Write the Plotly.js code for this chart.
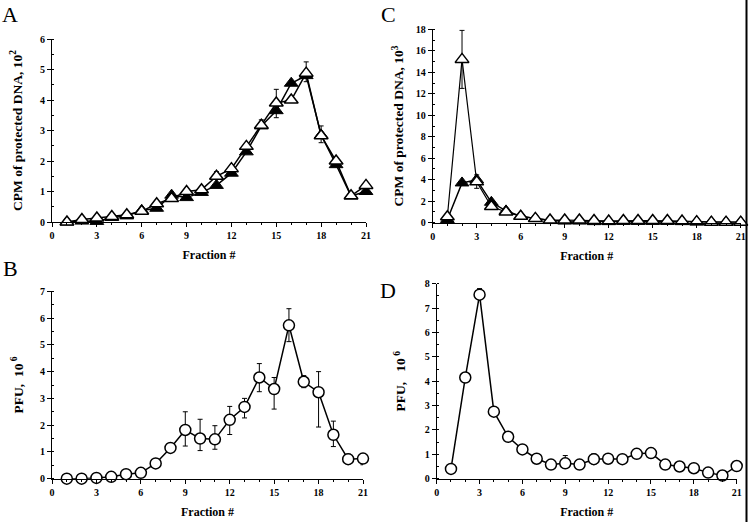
<!DOCTYPE html>
<html>
<head>
<meta charset="utf-8">
<script src="https://cdn.plot.ly/plotly-3.0.1.min.js"></script>
<style>html,body{margin:0;padding:0;background:#fff;}#chart{width:751px;height:522px;}</style>
</head>
<body>
<div id="chart"></div>
<script>
// ---- data ----
const fractions = [1,2,3,4,5,6,7,8,9,10,11,12,13,14,15,16,17,18,19,20,21];

// Panel A (CPM of protected DNA, 10^2)
const aFilled = [0,0.03,0.02,0.15,0.2,0.38,0.45,0.88,0.8,0.97,1.2,1.6,2.3,3.15,3.65,4.55,4.8,2.85,1.88,0.85,1.0];
const aFilledErrUp = [null,null,null,null,null,null,null,null,null,null,null,null,null,null,0,null,null,null,null,null,null];
const aFilledErrDn = [null,null,null,null,null,null,null,null,null,null,null,null,null,null,0.23,null,null,null,null,null,null];
const aOpen = [0,0.08,0.13,0.18,0.24,0.35,0.6,0.77,1.0,1.06,1.5,1.75,2.48,3.17,3.9,4.0,4.88,2.83,2.0,0.86,1.2];
const aOpenErrUp = [null,null,null,null,null,null,null,null,null,null,0.15,null,null,0.18,0.45,null,0.37,0.32,null,null,null];
const aOpenErrDn = [null,null,null,null,null,null,null,null,null,null,0,null,null,0,0,null,0.28,0.23,null,null,null];

// Panel B (PFU, 10^6)
const bPfu = [0,0,0.03,0.07,0.17,0.22,0.57,1.15,1.82,1.5,1.47,2.2,2.68,3.78,3.35,5.73,3.62,3.23,1.64,0.73,0.75];
const bErrUp = [null,null,null,null,null,null,0.18,0.17,0.68,0.72,0.51,0.5,0.32,0.52,0.43,0.62,0.23,0.77,0.51,0.19,0.18];
const bErrDn = [null,null,null,null,null,null,0.18,0.17,0.6,0.45,0.37,0.55,0.41,0.53,0.75,0.61,0.22,1.3,0.44,0.18,0.23];

// Panel C (CPM of protected DNA, 10^3)
const cFilled = [0.3,3.7,4.0,1.9,1.1,0.6,0.4,0.2,0.15,0.15,0.1,0.1,0.12,0.12,0.12,0.12,0.1,0.08,0.05,0.05,0.05];
const cOpen = [0.55,15.2,3.8,1.5,1.0,0.6,0.4,0.25,0.25,0.25,0.2,0.15,0.2,0.2,0.2,0.2,0.15,0.1,0.05,0.05,0.05];
const cOpenErrUp = [null,2.7,0.65,null,null,null,null,null,null,null,null,null,null,null,null,null,null,null,null,null,null];
const cOpenErrDn = [null,2.7,0.6,null,null,null,null,null,null,null,null,null,null,null,null,null,null,null,null,null,null];

// Panel D (PFU, 10^6)
const dPfu = [0.4,4.15,7.55,2.75,1.72,1.2,0.82,0.58,0.63,0.58,0.8,0.82,0.8,1.02,1.05,0.58,0.5,0.43,0.25,0.13,0.52];
const dErrUp = [null,null,0.25,null,null,null,null,null,0.32,null,0.22,null,null,null,null,null,null,null,null,null,null];
const dErrDn = [null,null,0,null,null,null,null,null,0,null,0.2,null,null,null,null,null,null,null,null,null,null];

const xTickVals = [0,3,6,9,12,15,18,21];

// ---- styles ----
const FONT = 'Liberation Serif, Times New Roman, serif';
const lineStyle = {color:'#000', width:1.5};
const err = (up, dn) => ({type:'data', symmetric:false, array:up, arrayminus:dn, color:'#000', thickness:1, width:2.5});

const traces = [
  {x:fractions, y:aFilled, xaxis:'x', yaxis:'y', mode:'lines+markers', line:lineStyle,
   marker:{symbol:'triangle-up', size:12, color:'#000', line:{color:'#000', width:1}},
   error_y:err(aFilledErrUp, aFilledErrDn), cliponaxis:false, name:'A filled'},
  {x:fractions, y:aOpen, xaxis:'x', yaxis:'y', mode:'lines+markers', line:lineStyle,
   marker:{symbol:'triangle-up', size:12, color:'#fff', line:{color:'#000', width:1.5}},
   error_y:err(aOpenErrUp, aOpenErrDn), cliponaxis:false, name:'A open'},
  {x:fractions, y:bPfu, xaxis:'x2', yaxis:'y2', mode:'lines+markers', line:lineStyle,
   marker:{symbol:'circle', size:11, color:'#fff', line:{color:'#000', width:1.5}},
   error_y:err(bErrUp, bErrDn), cliponaxis:false, name:'B'},
  {x:fractions, y:cFilled, xaxis:'x3', yaxis:'y3', mode:'lines+markers', line:lineStyle,
   marker:{symbol:'triangle-up', size:12, color:'#000', line:{color:'#000', width:1}},
   cliponaxis:false, name:'C filled'},
  {x:fractions, y:cOpen, xaxis:'x3', yaxis:'y3', mode:'lines+markers', line:{color:'#000', width:1.2},
   marker:{symbol:'triangle-up', size:12, color:'#fff', line:{color:'#000', width:1.5}},
   error_y:err(cOpenErrUp, cOpenErrDn), cliponaxis:false, name:'C open'},
  {x:fractions, y:dPfu, xaxis:'x4', yaxis:'y4', mode:'lines+markers', line:lineStyle,
   marker:{symbol:'circle', size:11, color:'#fff', line:{color:'#000', width:1.5}},
   error_y:err(dErrUp, dErrDn), cliponaxis:false, name:'D'}
];

const W = 751, H = 522;
const dx = (a,b) => [a/W, b/W];
const dy = (bottom, top) => [1-bottom/H, 1-top/H];

function xAxis(domain, anchor) {
  return {domain, anchor, range:[0,21], tickvals:xTickVals, showgrid:false, zeroline:false,
    showline:true, linecolor:'#000', linewidth:1, ticks:'outside', ticklen:4, tickcolor:'#000',
    tickfont:{family:FONT, size:10, color:'#000', weight:'bold'},
    minor:{dtick:1, tick0:0, ticks:'outside', ticklen:2, tickcolor:'#000'},
    title:{text:'<b>Fraction #</b>', font:{family:FONT, size:12, color:'#000'}, standoff:10},
    fixedrange:true};
}
function yAxis(domain, anchor, range, dtick, minorDtick, title, standoff) {
  return {domain, anchor, range, dtick, showgrid:false, zeroline:false,
    showline:true, linecolor:'#000', linewidth:1, ticks:'outside', ticklen:4, tickcolor:'#000',
    tickfont:{family:FONT, size:10, color:'#000', weight:'bold'},
    minor:{dtick:minorDtick, ticks:'inside', ticklen:2, tickcolor:'#000'},
    title:{text:title, font:{family:FONT, size:13.5, color:'#000'}, standoff},
    fixedrange:true};
}

const layout = {
  width:W, height:H, margin:{l:0, r:0, t:0, b:0}, showlegend:false,
  paper_bgcolor:'#fff', plot_bgcolor:'#fff',
  xaxis: xAxis(dx(52,366), 'y'),
  yaxis: yAxis(dy(222,39), 'x', [0,6], 1, 0.5, '<b>CPM of protected DNA, 10<sup>2</sup></b>', 14),
  xaxis2: xAxis(dx(52,363), 'y2'),
  yaxis2: yAxis(dy(478.7,291.3), 'x2', [0,7], 1, 0.5, '<b>PFU,  10<sup> 6</sup></b>', 13),
  xaxis3: xAxis(dx(432.7,740.7), 'y3'),
  yaxis3: yAxis(dy(222.7,29.3), 'x3', [0,18], 2, 1, '<b>CPM of protected DNA, 10<sup>3</sup></b>', 8),
  xaxis4: xAxis(dx(436.7,736.7), 'y4'),
  yaxis4: yAxis(dy(478.7,283.7), 'x4', [0,8], 1, 0.5, '<b>PFU,   10<sup> 6</sup></b>', 15),
  annotations: [
    {text:'A', x:10/W, y:1-14/H, xref:'paper', yref:'paper', showarrow:false, xanchor:'center', yanchor:'middle', font:{family:FONT, size:22, color:'#000'}},
    {text:'B', x:10/W, y:1-268/H, xref:'paper', yref:'paper', showarrow:false, xanchor:'center', yanchor:'middle', font:{family:FONT, size:22, color:'#000'}},
    {text:'C', x:388/W, y:1-14/H, xref:'paper', yref:'paper', showarrow:false, xanchor:'center', yanchor:'middle', font:{family:FONT, size:22, color:'#000'}},
    {text:'D', x:388/W, y:1-290/H, xref:'paper', yref:'paper', showarrow:false, xanchor:'center', yanchor:'middle', font:{family:FONT, size:22, color:'#000'}}
  ],
  shapes: [
    {type:'line', xref:'paper', yref:'paper', x0:746.5/W, x1:746.5/W, y0:0, y1:1, line:{color:'#000', width:2}}
  ]
};

Plotly.newPlot('chart', traces, layout, {displayModeBar:false, staticPlot:true});
</script>
</body>
</html>
